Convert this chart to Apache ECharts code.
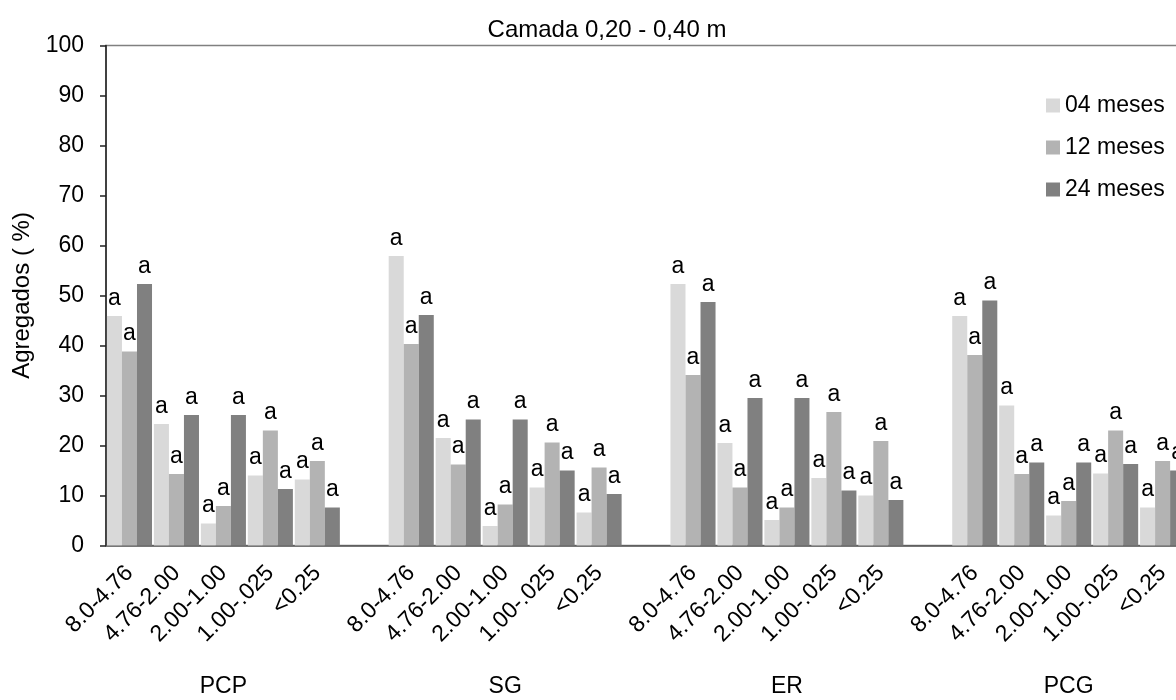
<!DOCTYPE html>
<html>
<head>
<meta charset="utf-8">
<script src="https://cdn.jsdelivr.net/npm/echarts@6/dist/echarts.min.js"></script>
<style>
  html, body { margin: 0; padding: 0; background: #fff; }
  #chart { width: 1176px; height: 700px; }
</style>
</head>
<body>
<div id="chart"></div>
<script>
// Aggregate size classes (mm) within each management system
const sizeClasses = ['8.0-4.76', '4.76-2.00', '2.00-1.00', '1.00-.025', '<0.25'];
const systems = ['PCP', 'SG', 'ER', 'PCG'];
const seriesNames = ['04 meses', '12 meses', '24 meses'];

// Aggregates (%) per system, in size-class order
const meses04 = {
  PCP: [45.9, 24.3, 4.4, 14.0, 13.2],
  SG:  [57.9, 21.5, 3.9, 11.6, 6.6],
  ER:  [52.3, 20.5, 5.1, 13.5, 10.0],
  PCG: [45.9, 28.0, 6.0, 14.4, 7.6]
};
const meses12 = {
  PCP: [38.8, 14.3, 7.9, 23.0, 16.9],
  SG:  [40.3, 16.2, 8.2, 20.6, 15.6],
  ER:  [34.1, 11.6, 7.6, 26.7, 20.9],
  PCG: [38.1, 14.3, 8.9, 23.0, 16.9]
};
const meses24 = {
  PCP: [52.3, 26.1, 26.1, 11.3, 7.6],
  SG:  [46.1, 25.2, 25.2, 15.0, 10.3],
  ER:  [48.7, 29.5, 29.5, 11.0, 9.1],
  PCG: [49.0, 16.6, 16.6, 16.3, 15.0]
};

// Significance letters above every bar
const letter = 'a';

// Each system gets its five classes plus one empty slot as a spacer
const categories = [];
const groupLabels = [];
systems.forEach(function (s) {
  sizeClasses.forEach(function (c, i) {
    categories.push(c);
    groupLabels.push(i === 2 ? s : '');
  });
  categories.push('');
  groupLabels.push('');
});

function flatten(table) {
  const out = [];
  systems.forEach(function (s) {
    table[s].forEach(function (v) { out.push(v); });
    out.push(null);
  });
  return out;
}

const colors = ['#d9d9d9', '#b3b3b3', '#808080'];
const tables = [meses04, meses12, meses24];
const font = 'Liberation Sans, Arial, sans-serif';
const slot = 46.96; // width of one category slot in px

const chart = echarts.init(document.getElementById('chart'), null, { renderer: 'canvas' });

chart.setOption({
  animation: false,
  backgroundColor: '#ffffff',
  textStyle: { fontFamily: font, color: '#000' },
  title: {
    text: 'Camada 0,20 - 0,40 m',
    left: 602,
    textAlign: 'center',
    top: 13,
    textStyle: { fontFamily: font, fontSize: 24, fontWeight: 'normal', color: '#000' }
  },
  legend: {
    orient: 'vertical',
    left: 1046,
    top: 94,
    padding: 0,
    icon: 'rect',
    itemWidth: 14,
    itemHeight: 14,
    itemGap: 19,
    data: seriesNames,
    textStyle: { fontFamily: font, fontSize: 23, color: '#000' }
  },
  grid: {
    left: 106,
    top: 45.5,
    bottom: 154.5,
    width: slot * categories.length,
    outerBoundsMode: 'none',
    containLabel: false,
    show: true,
    borderColor: '#808080',
    borderWidth: 1.5
  },
  xAxis: [
    {
      type: 'category',
      data: categories,
      position: 'bottom',
      axisLine: { lineStyle: { color: '#555', width: 1.5 } },
      axisTick: { show: false },
      axisLabel: {
        interval: 0,
        rotate: 45,
        margin: 24,
        fontFamily: font,
        fontSize: 23,
        color: '#000'
      }
    },
    {
      type: 'category',
      data: groupLabels,
      position: 'bottom',
      offset: 122,
      axisLine: { show: false },
      axisTick: { show: false },
      axisLabel: {
        interval: 0,
        fontFamily: font,
        fontSize: 23,
        color: '#000'
      }
    }
  ],
  yAxis: {
    type: 'value',
    min: 0,
    max: 100,
    interval: 10,
    name: 'Agregados ( %)',
    nameLocation: 'middle',
    nameGap: 55,
    nameTextStyle: { fontFamily: font, fontSize: 24, color: '#000' },
    axisLine: { show: true, lineStyle: { color: '#222', width: 1.5 } },
    axisTick: { show: true, inside: false, length: 6, lineStyle: { color: '#222', width: 1.5 } },
    axisLabel: { margin: 22, fontFamily: font, fontSize: 23, color: '#000' },
    splitLine: { show: false }
  },
  series: tables.map(function (t, k) {
    return {
      name: seriesNames[k],
      type: 'bar',
      xAxisIndex: 0,
      data: flatten(t),
      barGap: '0%',
      barCategoryGap: '4%',
      itemStyle: { color: colors[k] },
      label: {
        show: true,
        position: 'top',
        distance: 6,
        formatter: letter,
        fontFamily: font,
        fontSize: 23,
        color: '#000'
      }
    };
  })
});
</script>
</body>
</html>
